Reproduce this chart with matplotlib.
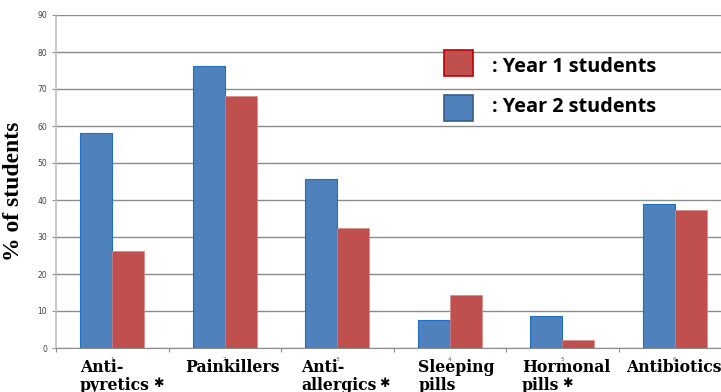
import matplotlib.pyplot as plt
import numpy as np
from matplotlib.patches import Rectangle

categories = ["Anti-\npyretics", "Painkillers", "Anti-\nallergics", "Sleeping\npills",
              "Hormonal\npills", "Antibiotics"]
starred = [True, False, True, False, True, False]
year2 = [58.1, 76.2, 45.7, 7.6, 8.6, 38.9]
year1 = [26.1, 68.1, 32.4, 14.2, 2.2, 37.2]

BLUE = "#4F81BD"
RED = "#C0504D"
GRID = "#8C8C8C"

fig = plt.figure(figsize=(7.21, 3.92), dpi=100)
# axes run a little past the right edge, as in the original slide
ax = fig.add_axes([56 / 721, 1 - 348 / 392, 675 / 721, 333 / 392])

x = np.arange(len(categories))
w = 0.284
ax.bar(x - w / 2, year2, w, color=BLUE, edgecolor="#1F6FC5", linewidth=0.8, zorder=3)
ax.bar(x + w / 2, year1, w, color=RED, edgecolor="#D98A88", linewidth=0.5, zorder=3)

ax.set_xlim(-0.5, len(categories) - 0.5)
ax.set_ylim(0, 90)
ax.set_yticks(range(0, 91, 10))
ax.yaxis.grid(True, color=GRID, linewidth=1.0, zorder=0)
ax.tick_params(axis="y", labelsize=5.5, labelcolor="#404040", color=GRID, length=3, width=0.8)
ax.set_xticks(np.arange(-0.5, len(categories) + 0.5, 1.0))
ax.set_xticklabels([])
ax.tick_params(axis="x", color=GRID, length=3, width=0.8)
for side in ("top", "right"):
    ax.spines[side].set_visible(False)
ax.spines["left"].set_color("#BFBFBF")
ax.spines["bottom"].set_color(GRID)
ax.spines["left"].set_linewidth(1.2)

ax.set_ylabel("% of students", fontsize=17, fontweight="bold", family="Liberation Serif")
ax.yaxis.set_label_coords(-0.047, 0.47)

# category labels, one text per line, left-aligned under each group
offsets = [-0.287, -0.353, -0.322, -0.28, -0.358, -0.433]
baselines = [-6.5, -11.4]
for i, (lab, star, off) in enumerate(zip(categories, starred, offsets)):
    lines = lab.split("\n")
    for j, line in enumerate(lines):
        t = ax.text(i + off, baselines[j], line, ha="left", va="baseline", fontsize=11.3,
                    fontweight="bold", family="DejaVu Serif", clip_on=False)
    if star:
        # heavy asterisk after the last line, slightly raised
        ax.annotate("\u2731", xy=(1, 0), xycoords=t, xytext=(3, 11),
                    textcoords="offset pixels", fontsize=9, fontweight="bold",
                    family="DejaVu Sans", ha="left", va="center", annotation_clip=False)
    ax.text(i, -2.4, str(i + 1), ha="center", va="top", fontsize=4, color="#555555",
            clip_on=False)

# legend drawn as boxes with text beside them
fig.patches.append(Rectangle((444 / 721, 1 - 76 / 392), 29 / 721, 26 / 392,
                             transform=fig.transFigure, facecolor=RED, edgecolor="#C00000",
                             linewidth=1.2))
fig.patches.append(Rectangle((444 / 721, 1 - 121 / 392), 29 / 721, 26 / 392,
                             transform=fig.transFigure, facecolor=BLUE, edgecolor="#385D8A",
                             linewidth=1.2))
fig.text(492 / 721, 1 - 67 / 392, ": Year 1 students", fontsize=14.3, fontweight="bold",
         family="Open Sans", va="center", ha="left")
fig.text(492 / 721, 1 - 107 / 392, ": Year 2 students", fontsize=14.3, fontweight="bold",
         family="Open Sans", va="center", ha="left")

fig.savefig("out.png", dpi=100)
